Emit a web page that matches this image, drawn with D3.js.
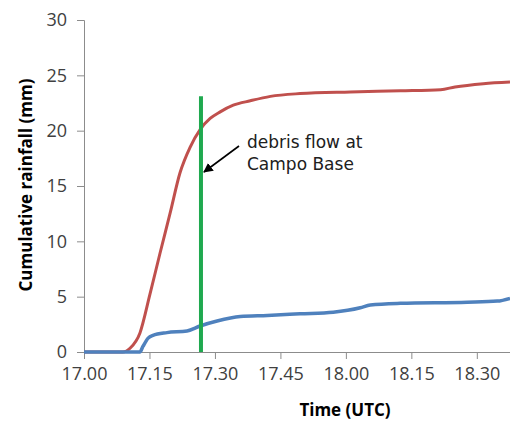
<!DOCTYPE html>
<html><head><meta charset="utf-8">
<script src="https://cdn.jsdelivr.net/npm/d3@7"></script>
<style>html,body{margin:0;padding:0;background:#fff;}svg{display:block;}</style>
</head><body>
<script>
// minutes after 17:00 UTC
const redTime  = [0, 8.9, 10.6, 12.8, 15.1, 17.4, 19.7, 22.0, 24.3, 26.6, 28.9, 31.2, 34.2, 38.1, 42.7, 49.5, 61.0, 72.5, 81.7, 85.0, 91.5, 97.6];
const redValue = [0, 0, 0.36, 1.7, 5.2, 8.9, 12.5, 16.2, 18.5, 20.1, 21.1, 21.7, 22.3, 22.7, 23.1, 23.35, 23.5, 23.6, 23.7, 23.95, 24.25, 24.4];
const blueTime  = [0, 12.8, 13.5, 14.7, 15.8, 19.0, 23.6, 26.6, 30.5, 35.8, 42.0, 49.5, 57.1, 63.3, 65.6, 72.5, 87.8, 94.7, 97.6];
const blueValue = [0, 0, 0.5, 1.25, 1.5, 1.75, 1.9, 2.35, 2.8, 3.2, 3.3, 3.45, 3.6, 4.0, 4.25, 4.4, 4.5, 4.6, 4.85];
const eventTime = 26.8, eventTop = 23.1;
const xTickMinutes = [0, 15, 30, 45, 60, 75, 90];
const xTickLabels = ["17.00","17.15","17.30","17.45","18.00","18.15","18.30"];
const yTicks = [0, 5, 10, 15, 20, 25, 30];
const annotation = ["debris flow at", "Campo Base"];

const W = 510, H = 421;
const svg = d3.select("body").append("svg").attr("width", W).attr("height", H);
const x = d3.scaleLinear().domain([0, 97.6]).range([84, 510]);
const y = d3.scaleLinear().domain([0, 30]).range([352, 20]);
const axisColor = "#8c8c8c", textColor = "#404040";

// y axis
const ya = svg.append("g").attr("transform", "translate(84,0)")
  .call(d3.axisLeft(y).tickValues(yTicks).tickSize(7).tickPadding(10).tickFormat(d3.format("d")));
ya.select(".domain").attr("stroke", axisColor).attr("stroke-width", 1);
ya.selectAll(".tick line").attr("stroke", axisColor);
ya.selectAll(".tick text").attr("fill", textColor).style("font-family", "Open Sans").style("font-size", "18px");

// x axis
const xa = svg.append("g").attr("transform", "translate(0,352)")
  .call(d3.axisBottom(x).tickValues(xTickMinutes).tickSize(7).tickPadding(8).tickFormat((d, i) => xTickLabels[i]));
xa.select(".domain").attr("stroke", axisColor).attr("stroke-width", 1);
xa.selectAll(".tick line").attr("stroke", axisColor);
xa.selectAll(".tick text").attr("fill", textColor).style("font-family", "Open Sans").style("font-size", "18px");

// titles
svg.append("text").attr("x", 345).attr("y", 416).attr("text-anchor", "middle")
  .style("font-family", "Open Sans").style("font-weight", "bold").style("font-size", "17px").attr("fill", "#000")
  .text("Time (UTC)");
svg.append("text").attr("transform", "translate(32,185) rotate(-90)").attr("text-anchor", "middle")
  .style("font-family", "Open Sans").style("font-weight", "bold").style("font-size", "17px").attr("fill", "#000")
  .text("Cumulative rainfall (mm)");

const line = d3.line().curve(d3.curveMonotoneX).x(d => x(d[0])).y(d => y(d[1]));
svg.append("path").datum(redTime.map((t, i) => [t, redValue[i]]))
  .attr("d", line).attr("fill", "none").attr("stroke", "#c0504d").attr("stroke-width", 3).attr("stroke-linejoin", "round");
svg.append("path").datum(blueTime.map((t, i) => [t, blueValue[i]]))
  .attr("d", line).attr("fill", "none").attr("stroke", "#4f81bd").attr("stroke-width", 3.5).attr("stroke-linejoin", "round");

// event line
svg.append("line").attr("x1", x(eventTime)).attr("x2", x(eventTime)).attr("y1", y(eventTop)).attr("y2", y(0))
  .attr("stroke", "#1fa94f").attr("stroke-width", 4);

// arrow
svg.append("defs").append("marker").attr("id", "ah").attr("viewBox", "0 0 10 10").attr("refX", 9).attr("refY", 5)
  .attr("markerWidth", 6).attr("markerHeight", 6).attr("orient", "auto").attr("markerUnits", "strokeWidth")
  .append("path").attr("d", "M0,0 L10,5 L0,10 z").attr("fill", "#000");
svg.append("line").attr("x1", 239).attr("y1", 146).attr("x2", x(eventTime) + 3).attr("y2", 172)
  .attr("stroke", "#000").attr("stroke-width", 1.6).attr("marker-end", "url(#ah)");

svg.append("g").selectAll("text").data(annotation).join("text")
  .attr("x", 247).attr("y", (d, i) => 148 + i * 22)
  .style("font-family", "DejaVu Sans").style("font-size", "17px").attr("fill", "#202020")
  .text(d => d);
</script>
</body></html>
